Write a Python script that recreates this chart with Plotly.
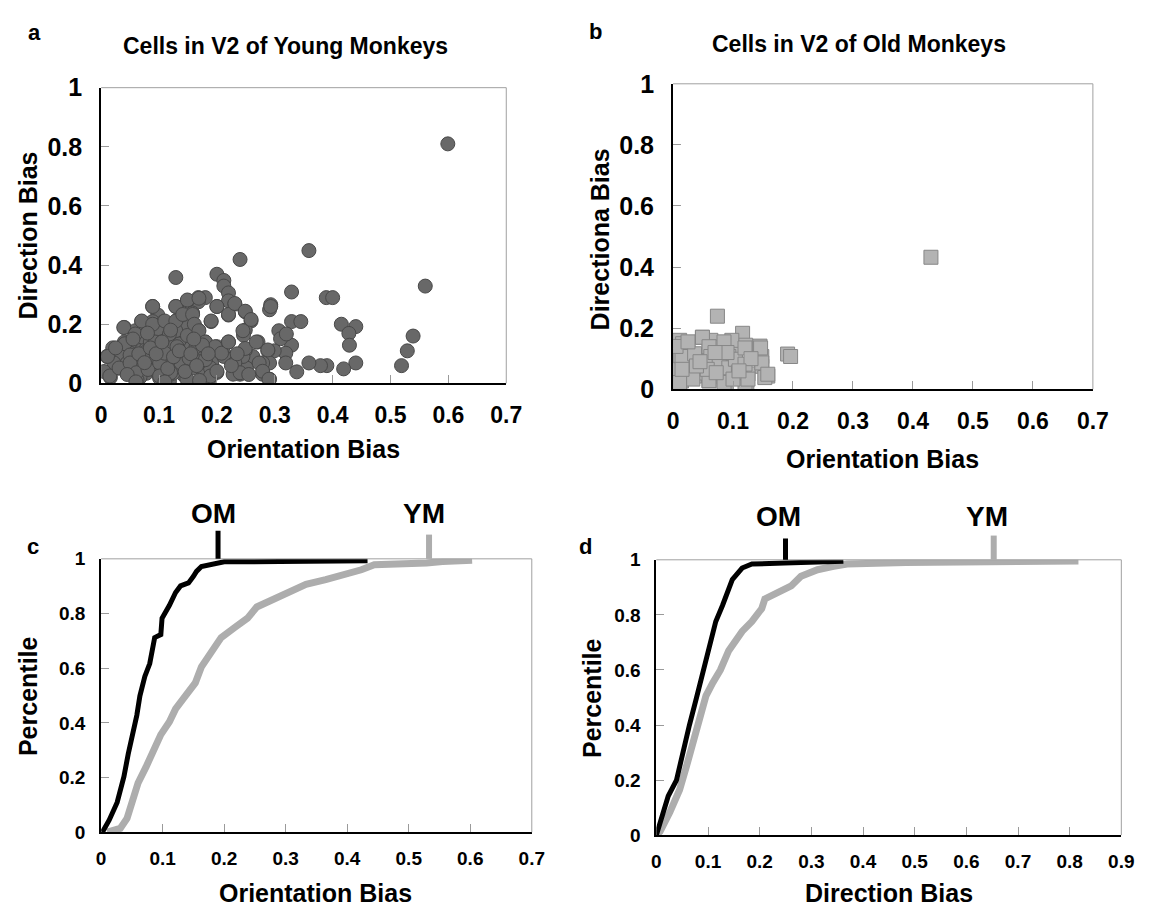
import plotly.graph_objects as go

W, H = 1154, 917
FONT = "Liberation Sans"

# ---------------- data ----------------
# Panel a: cells in V2 of young monkeys (orientation bias, direction bias)
young_orient = [0.599, 0.359, 0.240, 0.129, 0.200, 0.212, 0.212, 0.220, 0.220, 0.231,
                0.560, 0.329, 0.389, 0.400, 0.293, 0.291, 0.249, 0.259, 0.329, 0.345,
                0.190, 0.220, 0.415, 0.440, 0.428, 0.429, 0.539, 0.529, 0.519, 0.440,
                0.419, 0.390, 0.379, 0.359, 0.338, 0.329, 0.319, 0.319, 0.307, 0.310,
                0.320, 0.299, 0.288, 0.291, 0.291, 0.279, 0.271, 0.279, 0.262, 0.251,
                0.240, 0.228, 0.249, 0.249, 0.246, 0.245, 0.228, 0.220, 0.200, 0.212,
                0.200, 0.189, 0.191, 0.200, 0.180, 0.168, 0.168, 0.149, 0.129, 0.089,
                0.158, 0.141, 0.098, 0.070, 0.089, 0.108, 0.128, 0.149, 0.168, 0.040,
                0.059, 0.040, 0.050, 0.089, 0.121, 0.136, 0.149, 0.180, 0.158, 0.010,
                0.016, 0.030, 0.050, 0.070, 0.110, 0.129, 0.149, 0.168, 0.180, 0.059,
                0.078, 0.101, 0.118, 0.141, 0.158, 0.175, 0.098, 0.121, 0.141, 0.050,
                0.067, 0.036, 0.022, 0.062, 0.078, 0.098, 0.070, 0.110, 0.129, 0.098,
                0.135, 0.118, 0.158, 0.168, 0.189, 0.212, 0.124, 0.089, 0.045, 0.081,
                0.005, 0.020, 0.085, 0.105, 0.138, 0.155, 0.062, 0.092, 0.115, 0.148,
                0.011, 0.015, 0.031, 0.039, 0.041, 0.050, 0.059, 0.050, 0.061, 0.070,
                0.078, 0.081, 0.089, 0.089, 0.093, 0.101, 0.101, 0.110, 0.110, 0.118,
                0.120, 0.129, 0.129, 0.131, 0.138, 0.141, 0.149, 0.149, 0.152, 0.158,
                0.161, 0.164, 0.169, 0.169, 0.172, 0.180, 0.180, 0.189, 0.190, 0.197,
                0.200, 0.200, 0.208, 0.220, 0.220, 0.231, 0.231, 0.240, 0.245, 0.249,
                0.249, 0.259, 0.268, 0.273, 0.279, 0.288, 0.290, 0.293,
                0.025, 0.045, 0.055, 0.065, 0.075, 0.085, 0.095, 0.105, 0.115, 0.125,
                0.135, 0.145, 0.155, 0.165, 0.175, 0.185, 0.080, 0.120, 0.160, 0.060,
                0.110, 0.170, 0.225, 0.235, 0.255]
young_dir = [0.810, 0.449, 0.419, 0.358, 0.369, 0.348, 0.329, 0.306, 0.279, 0.268,
             0.329, 0.309, 0.290, 0.290, 0.266, 0.249, 0.242, 0.211, 0.209, 0.209,
             0.209, 0.231, 0.200, 0.192, 0.169, 0.129, 0.160, 0.110, 0.060, 0.069,
             0.049, 0.060, 0.060, 0.069, 0.039, 0.129, 0.102, 0.069, 0.178, 0.151,
             0.167, 0.110, 0.110, 0.069, 0.014, 0.031, 0.140, 0.069, 0.091, 0.052,
             0.031, 0.031, 0.112, 0.180, 0.163, 0.091, 0.069, 0.140, 0.124, 0.102,
             0.037, 0.020, 0.069, 0.260, 0.290, 0.290, 0.276, 0.279, 0.260, 0.260,
             0.238, 0.231, 0.231, 0.209, 0.209, 0.209, 0.209, 0.189, 0.180, 0.189,
             0.178, 0.140, 0.124, 0.151, 0.155, 0.151, 0.151, 0.140, 0.124, 0.091,
             0.020, 0.052, 0.102, 0.112, 0.095, 0.106, 0.084, 0.091, 0.080, 0.062,
             0.034, 0.018, 0.007, 0.031, 0.052, 0.046, 0.057, 0.069, 0.069, 0.039,
             0.020, 0.091, 0.069, 0.091, 0.117, 0.128, 0.157, 0.167, 0.178, 0.184,
             0.133, 0.128, 0.163, 0.112, 0.052, 0.091, 0.034, 0.062, 0.069, 0.080,
             0.040, 0.120, 0.140, 0.140, 0.100, 0.120, 0.012, 0.045, 0.025, 0.015,
             0.091, 0.025, 0.052, 0.189, 0.134, 0.096, 0.167, 0.069, 0.036, 0.211,
             0.107, 0.047, 0.260, 0.200, 0.140, 0.069, 0.025, 0.211, 0.102, 0.167,
             0.036, 0.260, 0.211, 0.124, 0.069, 0.233, 0.282, 0.162, 0.085, 0.233,
             0.200, 0.124, 0.288, 0.178, 0.074, 0.140, 0.080, 0.025, 0.211, 0.124,
             0.041, 0.260, 0.102, 0.140, 0.233, 0.270, 0.069, 0.036, 0.178, 0.244,
             0.118, 0.216, 0.140, 0.069, 0.041, 0.113, 0.014, 0.260,
             0.120, 0.030, 0.150, 0.100, 0.070, 0.120, 0.100, 0.140, 0.050, 0.090,
             0.110, 0.040, 0.100, 0.060, 0.130, 0.100, 0.170, 0.180, 0.150, 0.005,
             0.005, 0.010, 0.060, 0.100, 0.030]

# Panel b: cells in V2 of old monkeys
old_orient = [0.430, 0.074, 0.116, 0.191, 0.196, 0.145, 0.148, 0.148, 0.158, 0.153,
              0.121, 0.125, 0.123, 0.104, 0.085, 0.049, 0.016, 0.011, 0.036, 0.060,
              0.077, 0.098, 0.112, 0.068, 0.036, 0.014, 0.012, 0.060, 0.085, 0.011,
              0.058, 0.087, 0.104, 0.027, 0.044, 0.093, 0.025, 0.063, 0.098, 0.074,
              0.120, 0.085,
              0.016, 0.049, 0.015, 0.036, 0.060, 0.063, 0.085, 0.077, 0.093, 0.104,
              0.120, 0.120, 0.148, 0.146, 0.158, 0.033, 0.060, 0.085, 0.109, 0.125,
              0.011, 0.057, 0.015, 0.039, 0.072, 0.100,
              0.005, 0.090, 0.130, 0.025, 0.070, 0.045, 0.110]
old_dir = [0.432, 0.239, 0.183, 0.115, 0.107, 0.141, 0.107, 0.075, 0.043, 0.038,
           0.144, 0.050, 0.017, 0.040, 0.149, 0.170, 0.149, 0.160, 0.112, 0.128,
           0.096, 0.122, 0.081, 0.070, 0.043, 0.027, 0.107, 0.027, 0.040, 0.065,
           0.090, 0.017, 0.086, 0.080, 0.053, 0.107, 0.128, 0.160, 0.160, 0.138,
           0.017, 0.117,
           0.149, 0.170, 0.107, 0.116, 0.139, 0.107, 0.155, 0.091, 0.070, 0.098,
           0.135, 0.082, 0.086, 0.135, 0.049, 0.033, 0.028, 0.022, 0.054, 0.033,
           0.022, 0.065, 0.065, 0.076, 0.054, 0.033,
           0.140, 0.120, 0.100, 0.155, 0.120, 0.090, 0.060]

# Panel c: cumulative distributions of orientation bias
cdf_c_om_x = [0.002, 0.013, 0.026, 0.037, 0.044, 0.052, 0.058, 0.063, 0.071, 0.079,
              0.084, 0.087, 0.097, 0.099, 0.111, 0.121, 0.129, 0.142, 0.150, 0.155,
              0.163, 0.185, 0.200, 0.290, 0.433]
cdf_c_om_p = [0.000, 0.044, 0.109, 0.203, 0.286, 0.357, 0.428, 0.499, 0.570, 0.617,
              0.688, 0.712, 0.723, 0.783, 0.830, 0.877, 0.901, 0.912, 0.936, 0.954,
              0.972, 0.983, 0.989, 0.990, 0.993]
cdf_c_ym_x = [0.010, 0.031, 0.042, 0.052, 0.060, 0.073, 0.084, 0.097, 0.111, 0.121,
              0.137, 0.153, 0.163, 0.179, 0.195, 0.216, 0.238, 0.253, 0.280, 0.306,
              0.333, 0.365, 0.396, 0.423, 0.444, 0.502, 0.529, 0.555, 0.603]
cdf_c_ym_p = [0.000, 0.014, 0.050, 0.120, 0.180, 0.239, 0.298, 0.357, 0.404, 0.451,
              0.499, 0.546, 0.605, 0.664, 0.712, 0.747, 0.783, 0.824, 0.853, 0.877,
              0.907, 0.924, 0.942, 0.960, 0.978, 0.980, 0.985, 0.990, 0.995]

# Panel d: cumulative distributions of direction bias
cdf_d_om_x = [0.000, 0.004, 0.023, 0.039, 0.051, 0.064, 0.077, 0.090, 0.102, 0.115,
              0.128, 0.147, 0.166, 0.185, 0.248, 0.324, 0.362]
cdf_d_om_p = [0.000, 0.025, 0.142, 0.200, 0.306, 0.400, 0.494, 0.588, 0.670, 0.776,
              0.834, 0.928, 0.970, 0.985, 0.988, 0.992, 0.995]
cdf_d_ym_x = [0.000, 0.007, 0.026, 0.045, 0.058, 0.070, 0.083, 0.096, 0.109, 0.124,
              0.140, 0.153, 0.166, 0.185, 0.204, 0.210, 0.236, 0.261, 0.280, 0.312,
              0.343, 0.369, 0.483, 0.648, 0.817]
cdf_d_ym_p = [0.000, 0.013, 0.083, 0.165, 0.248, 0.330, 0.424, 0.506, 0.553, 0.600,
              0.670, 0.705, 0.740, 0.776, 0.823, 0.858, 0.881, 0.905, 0.940, 0.964,
              0.976, 0.985, 0.990, 0.993, 0.996]

# Markers on top of the CDF panels (group, x position)
marks_c = [("OM", 0.19), ("YM", 0.533)]
marks_d = [("OM", 0.25), ("YM", 0.653)]

x_ticks_07 = [0, 0.1, 0.2, 0.3, 0.4, 0.5, 0.6, 0.7]
x_ticks_09 = [0, 0.1, 0.2, 0.3, 0.4, 0.5, 0.6, 0.7, 0.8, 0.9]
y_ticks = [0, 0.2, 0.4, 0.6, 0.8, 1]

# ---------------- figure ----------------
def px(x):
    return x / W

def py(y):
    return 1 - y / H

BLACK = "#000000"
GRAY_LINE = "#adadad"

fig = go.Figure()

fig.add_trace(go.Scatter(
    x=young_orient, y=young_dir, mode="markers", xaxis="x", yaxis="y",
    marker=dict(symbol="circle", size=14, color="#686868",
                line=dict(color="#484848", width=1)),
    hoverinfo="x+y"))

fig.add_trace(go.Scatter(
    x=old_orient, y=old_dir, mode="markers", xaxis="x2", yaxis="y2",
    marker=dict(symbol="square", size=14, color="#b3b3b3",
                line=dict(color="#878787", width=1)),
    hoverinfo="x+y"))

fig.add_trace(go.Scatter(x=cdf_c_ym_x, y=cdf_c_ym_p, mode="lines", xaxis="x3", yaxis="y3",
                         line=dict(color=GRAY_LINE, width=7)))
fig.add_trace(go.Scatter(x=cdf_c_om_x, y=cdf_c_om_p, mode="lines", xaxis="x3", yaxis="y3",
                         line=dict(color=BLACK, width=5)))
fig.add_trace(go.Scatter(x=cdf_d_ym_x, y=cdf_d_ym_p, mode="lines", xaxis="x4", yaxis="y4",
                         line=dict(color=GRAY_LINE, width=7)))
fig.add_trace(go.Scatter(x=cdf_d_om_x, y=cdf_d_om_p, mode="lines", xaxis="x4", yaxis="y4",
                         line=dict(color=BLACK, width=5)))

domains = {
    "a": ([px(97), px(510)], [py(381), py(76)]),
    "b": ([px(680), px(1108)], [py(387), py(72)]),
    "c": ([px(97), px(536)], [py(844), py(562)]),
    "d": ([px(663), px(1137)], [py(847), py(563)]),
}

def xaxis(dom, rng, tv, size, anchor, standoff):
    return dict(domain=dom, range=rng, tickvals=tv, anchor=anchor,
                showline=True, linecolor=BLACK, linewidth=2,
                ticks="inside", ticklen=8, tickwidth=1, tickcolor="#9a9a9a",
                showgrid=False, zeroline=False, ticklabelstandoff=standoff,
                tickfont=dict(family=FONT, size=size, color=BLACK, weight="bold"))

def yaxis(dom, tv, size, anchor, standoff):
    return dict(domain=dom, range=[0, 1], tickvals=tv, anchor=anchor,
                showline=True, linecolor=BLACK, linewidth=2,
                ticks="inside", ticklen=8, tickwidth=1, tickcolor="#9a9a9a",
                showgrid=False, zeroline=False, ticklabelstandoff=standoff,
                tickfont=dict(family=FONT, size=size, color=BLACK, weight="bold"))

shapes = []
for key in "abcd":
    xd, yd = domains[key]
    shapes.append(dict(type="line", xref="paper", yref="paper", x0=xd[0], x1=xd[1],
                       y0=yd[1], y1=yd[1], line=dict(color="#a0a0a0", width=1)))
    shapes.append(dict(type="line", xref="paper", yref="paper", x0=xd[1], x1=xd[1],
                       y0=yd[0], y1=yd[1], line=dict(color="#a0a0a0", width=1)))

annotations = []

def text(x, y, s, size, xref="paper", yref="paper", angle=0, xshift=0):
    annotations.append(dict(x=x, y=y, xref=xref, yref=yref, text=s, showarrow=False,
                            xanchor="center", yanchor="middle", textangle=angle,
                            xshift=xshift,
                            font=dict(family=FONT, size=size, color=BLACK, weight="bold")))

# mark ticks above CDF panels
mark_style = {"OM": (BLACK, 5, 533), "YM": (GRAY_LINE, 6, 537)}
for (name, xv) in marks_c:
    col, wd, top = mark_style[name]
    shapes.append(dict(type="line", xref="x3", yref="paper", x0=xv, x1=xv,
                       y0=py(562), y1=py(top), line=dict(color=col, width=wd)))
    text(xv, py(515), name, 28, xref="x3", xshift=-5)
mark_style_d = {"OM": (BLACK, 5, 541), "YM": (GRAY_LINE, 6, 538)}
for (name, xv) in marks_d:
    col, wd, top = mark_style_d[name]
    shapes.append(dict(type="line", xref="x4", yref="paper", x0=xv, x1=xv,
                       y0=py(563), y1=py(top), line=dict(color=col, width=wd)))
    text(xv, py(518), name, 28, xref="x4", xshift=-7)

# panel letters and titles
text(px(29), py(19), "a", 22)
text(px(601), py(18), "b", 22)
text(px(28), py(549), "c", 22)
text(px(591), py(549), "d", 22)
text(px(285), py(33), "Cells in V2 of Young Monkeys", 23)
text(px(870), py(31), "Cells in V2 of Old Monkeys", 23)

# axis titles
text(px(303), py(449), "Orientation Bias", 25)
text(px(894), py(459), "Orientation Bias", 25)
text(px(316), py(907), "Orientation Bias", 25)
text(px(900), py(907), "Direction Bias", 25)
text(px(22), py(229), "Direction Bias", 25, angle=-90)
text(px(605), py(232), "Directiona Bias", 25, angle=-90)
text(px(22), py(704), "Percentile", 25, angle=-90)
text(px(598), py(706), "Percentile", 25, angle=-90)

fig.update_layout(
    width=W, height=H, margin=dict(l=0, r=0, t=0, b=0),
    paper_bgcolor="white", plot_bgcolor="white", showlegend=False,
    xaxis=xaxis(domains["a"][0], [0, 0.7], x_ticks_07, 23, "y", 10),
    yaxis=yaxis(domains["a"][1], y_ticks, 25, "x", 12),
    xaxis2=xaxis(domains["b"][0], [0, 0.7], x_ticks_07, 23, "y2", 10),
    yaxis2=yaxis(domains["b"][1], y_ticks, 25, "x2", 12),
    xaxis3=xaxis(domains["c"][0], [0, 0.7], x_ticks_07, 19, "y3", 8),
    yaxis3=yaxis(domains["c"][1], y_ticks, 19, "x3", 10),
    xaxis4=xaxis(domains["d"][0], [0, 0.9], x_ticks_09, 19, "y4", 8),
    yaxis4=yaxis(domains["d"][1], y_ticks, 19, "x4", 10),
    shapes=shapes, annotations=annotations,
)

fig.write_html("out.html")
